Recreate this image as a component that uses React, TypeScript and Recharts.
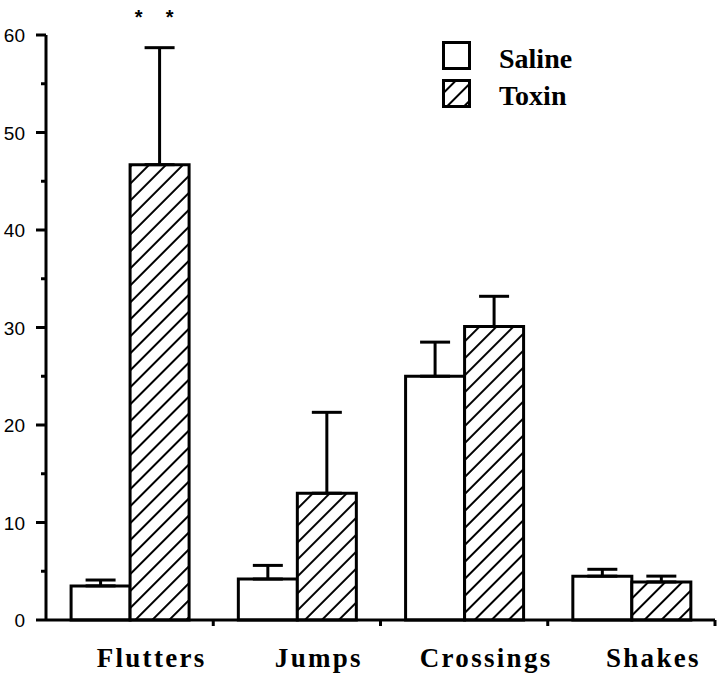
import { BarChart, Bar, XAxis, YAxis, ErrorBar, Legend, LabelList } from "recharts";

const categories = ["Flutters", "Jumps", "Crossings", "Shakes"];
const saline = [3.5, 4.2, 25.0, 4.5];
const salineErr = [0.6, 1.4, 3.5, 0.7];
const toxin = [46.7, 13.0, 30.1, 3.9];
const toxinErr = [12.0, 8.3, 3.1, 0.6];
const marks = ["* *", "", "", ""];
const yTicks = [0, 5, 10, 15, 20, 25, 30, 35, 40, 45, 50, 55, 60];

const data = categories.map((name, i) => ({
  name,
  saline: saline[i],
  salineErr: [0, salineErr[i]],
  toxin: toxin[i],
  toxinErr: [0, toxinErr[i]],
  mark: marks[i],
}));

const serif = "'Liberation Serif', 'Times New Roman', serif";
const sans = "'Liberation Sans', Arial, sans-serif";

function YTick(props: any) {
  const { x, y, payload } = props;
  const major = payload.value % 10 === 0;
  return (
    <g>
      <line x1={x - (major ? 10 : 5)} y1={y} x2={x} y2={y} stroke="#000" strokeWidth={3} />
      {major && (
        <text x={x - 21} y={y + 7} textAnchor="end" fontFamily={sans} fontSize={19} fill="#000">
          {payload.value}
        </text>
      )}
    </g>
  );
}

function XTick(props: any) {
  const { x, y, payload } = props;
  const half = payload.offset ?? 83.5;
  return (
    <g>
      <line x1={x + half} y1={y} x2={x + half} y2={y + 6} stroke="#000" strokeWidth={3} />
      <text
        x={x + 22}
        y={y + 47}
        textAnchor="middle"
        fontFamily={serif}
        fontWeight="bold"
        fontSize={27}
        letterSpacing={2.3}
        fill="#000"
      >
        {payload.value}
      </text>
    </g>
  );
}

// significance stars sit above the top of the error bar
function Stars(props: any) {
  const { x, y, width, height, value, index } = props;
  if (!value) return null;
  const scale = height / toxin[index];
  const top = y - toxinErr[index] * scale;
  const cx = x + width / 2;
  return (
    <g fontFamily={sans} fontWeight="bold" fontSize={20} fill="#000">
      <text x={cx - 21} y={top - 24} textAnchor="middle">*</text>
      <text x={cx + 10} y={top - 24} textAnchor="middle">*</text>
    </g>
  );
}

function LegendBox({ payload }: any) {
  const items = payload ?? [];
  return (
    <svg width={180} height={80}>
      {items.map((p: any, i: number) => (
        <g key={p.value}>
          <rect
            x={4.5}
            y={4.5 + i * 38}
            width={26}
            height={26}
            fill={i === 0 ? "#fff" : "url(#hatch)"}
            stroke="#000"
            strokeWidth={3}
          />
          <text
            x={60}
            y={30 + i * 37}
            fontFamily={serif}
            fontWeight="bold"
            fontSize={28}
            fill="#000"
          >
            {p.value}
          </text>
        </g>
      ))}
    </svg>
  );
}

export default function App() {
  return (
    <div style={{ position: "absolute", left: 0, top: 0, background: "#fff" }}>
      <BarChart
        width={720}
        height={675}
        data={data}
        margin={{ top: 35, right: 5, left: 0, bottom: 0 }}
        barCategoryGap="15%"
        barGap={0}
      >
        <defs>
          <pattern id="hatch" patternUnits="userSpaceOnUse" width={12} height={12} patternTransform="rotate(45)">
            <rect width={12} height={12} fill="#fff" />
            <line x1={6} y1={0} x2={6} y2={12} stroke="#000" strokeWidth={2} />
          </pattern>
        </defs>
        <XAxis
          dataKey="name"
          height={55}
          axisLine={{ stroke: "#000", strokeWidth: 3 }}
          tickLine={false}
          tickSize={0}
          tickMargin={0}
          tick={<XTick />}
        />
        <YAxis
          width={46}
          domain={[0, 60]}
          ticks={yTicks}
          interval={0}
          axisLine={{ stroke: "#000", strokeWidth: 3 }}
          tickLine={false}
          tickSize={0}
          tickMargin={0}
          tick={<YTick />}
        />
        <Legend
          layout="horizontal"
          verticalAlign="middle"
          align="center"
          content={<LegendBox />}
          wrapperStyle={{ position: "absolute", top: 38, left: 439, width: 180, height: 80 }}
        />
        <Bar dataKey="saline" name="Saline" fill="#fff" stroke="#000" strokeWidth={3} isAnimationActive={false}>
          <ErrorBar dataKey="salineErr" width={15} stroke="#000" strokeWidth={3} direction="y" />
        </Bar>
        <Bar dataKey="toxin" name="Toxin" fill="url(#hatch)" stroke="#000" strokeWidth={3} isAnimationActive={false}>
          <ErrorBar dataKey="toxinErr" width={15} stroke="#000" strokeWidth={3} direction="y" />
          <LabelList dataKey="mark" content={<Stars />} />
        </Bar>
      </BarChart>
    </div>
  );
}
